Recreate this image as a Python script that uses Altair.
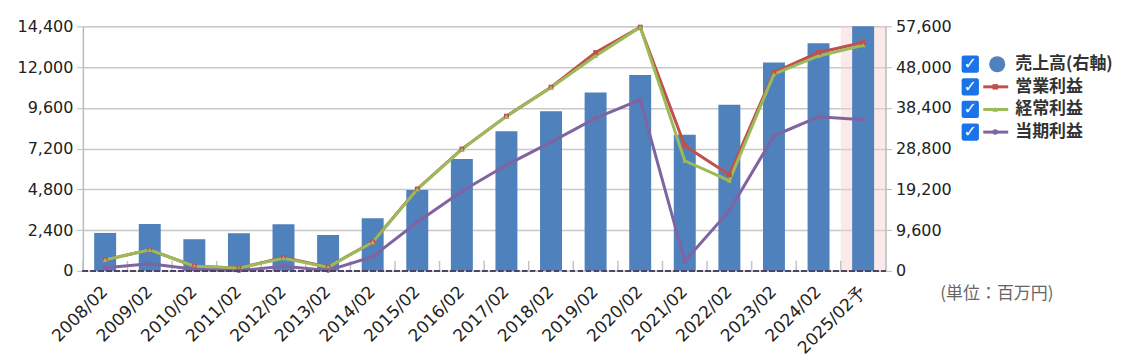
import altair as alt
import pandas as pd

years = ["2008/02", "2009/02", "2010/02", "2011/02", "2012/02", "2013/02", "2014/02",
         "2015/02", "2016/02", "2017/02", "2018/02", "2019/02", "2020/02", "2021/02",
         "2022/02", "2023/02", "2024/02", "2025/02予"]
sales = [8930, 11050, 7450, 8860, 11000, 8460, 12390, 19040, 26330, 32900, 37600,
         42000, 46150, 32050, 39100, 49060, 53600, 57600]
op_profit = [647, 1234, 276, 170, 780, 230, 1700, 4820, 7170, 9110, 10815, 12855,
             14350, 7365, 5660, 11680, 12855, 13443]
ord_profit = [647, 1234, 276, 159, 746, 217, 1687, 4800, 7150, 9100, 10800, 12655,
              14350, 6483, 5308, 11580, 12655, 13285]
net_profit = [176, 411, 100, 10, 276, 20, 840, 2860, 4685, 6230, 7580, 8990, 10070,
              570, 3545, 7953, 9070, 8894]

series_names = ["売上高(右軸)", "営業利益", "経常利益", "当期利益"]
series_colors = ["#4F81BD", "#C0504D", "#9BBB59", "#8064A2"]
line_names = series_names[1:]
line_shapes = ["square", "triangle-up", "circle"]
forecast_year = ["2025/02予"]
left_ticks = [0, 2400, 4800, 7200, 9600, 12000, 14400]
right_ticks = [0, 9600, 19200, 28800, 38400, 48000, 57600]
unit_label = "(単位：百万円)"

W, H = 804, 245

bars_df = pd.DataFrame({"year": years, "sales": sales})
lines_df = pd.concat([
    pd.DataFrame({"year": years, "series": name, "value": vals})
    for name, vals in zip(line_names, [op_profit, ord_profit, net_profit])
])
band_df = pd.DataFrame({"year": forecast_year})
legend_df = pd.DataFrame({"name": series_names, "idx": list(range(len(series_names)))})

color_scale = alt.Scale(domain=series_names, range=series_colors)
shape_scale = alt.Scale(domain=line_names, range=line_shapes)

x_axis = alt.Axis(title=None, labelAngle=-45, labelFontSize=17, labelColor="#222",
                  labelFont="DejaVu Sans", ticks=False, domain=False,
                  labelBaseline="middle", labelAlign="right", labelPadding=18)
x_scale = alt.Scale(domain=years, paddingInner=0, paddingOuter=0)
X = alt.X("year:N", sort=years, scale=x_scale, axis=x_axis)

band = alt.Chart(band_df).mark_rect(color="#f9cfcf", opacity=0.45).encode(
    x=X, y=alt.value(0), y2=alt.value(H))

tick_rules = alt.Chart(bars_df).mark_rule(color="#c4c4c4", strokeWidth=1.5).encode(
    x=alt.X("year:N", sort=years, bandPosition=0, scale=x_scale, axis=x_axis),
    y=alt.value(H - 10), y2=alt.value(H))

bars = alt.Chart(bars_df).mark_bar(size=22, color="#4F81BD").encode(
    x=X,
    y=alt.Y("sales:Q", scale=alt.Scale(domain=[0, 57600], nice=False),
            axis=alt.Axis(orient="right", values=right_ticks, format=",.0f", title=None,
                          grid=False, labelFontSize=16, labelColor="#222",
                          labelFont="DejaVu Sans", domainColor="#bbbbbb",
                          tickColor="#bbbbbb", domainWidth=1.5, tickSize=6,
                          labelPadding=4)))

Yl = alt.Y("value:Q", scale=alt.Scale(domain=[0, 14400], nice=False),
           axis=alt.Axis(orient="left", values=left_ticks, format=",.0f", title=None,
                         grid=True, gridColor="#c8c8c8", gridWidth=1.5,
                         labelFontSize=16, labelColor="#222", labelFont="DejaVu Sans",
                         domainColor="#bbbbbb", tickColor="#bbbbbb", domainWidth=1.5,
                         tickSize=6, labelPadding=4))

lines = alt.Chart(lines_df).mark_line(strokeWidth=3).encode(
    x=X, y=Yl,
    color=alt.Color("series:N", scale=color_scale, legend=None),
    order=alt.Order("series:N"))
points = alt.Chart(lines_df).mark_point(filled=True, size=24, opacity=1).encode(
    x=X, y=Yl,
    color=alt.Color("series:N", scale=color_scale, legend=None),
    shape=alt.Shape("series:N", scale=shape_scale, legend=None))
line_layer = alt.layer(lines, points)

baseline = alt.Chart(bars_df).mark_rule(color="#4d4466", strokeWidth=1.5,
                                         strokeDash=[5, 3]).encode(
    x=alt.value(0), x2=alt.value(W), y=alt.value(H))

Yleg = alt.Y("idx:Q", scale=alt.Scale(domain=[0, 3], range=[38, 106]), axis=None)
box_path = "M-0.75,-1H0.75Q1,-1,1,-0.75V0.75Q1,1,0.75,1H-0.75Q-1,1,-1,0.75V-0.75Q-1,-1,-0.75,-1Z"
leg_box = alt.Chart(legend_df).mark_point(shape=box_path, filled=True, size=300,
                                           color="#1a73e8", opacity=1).encode(
    x=alt.value(889), y=Yleg)
leg_check = alt.Chart(legend_df).mark_text(text="✓", color="white", fontSize=16,
                                            fontWeight="bold", font="DejaVu Sans",
                                            baseline="middle").encode(
    x=alt.value(889), y=Yleg)
leg_circle = alt.Chart(legend_df).transform_filter(
    alt.datum.name == series_names[0]).mark_circle(size=260, opacity=1).encode(
    x=alt.value(916), y=Yleg,
    color=alt.Color("name:N", scale=color_scale, legend=None))
leg_rule = alt.Chart(legend_df).transform_filter(
    alt.datum.name != series_names[0]).mark_rule(strokeWidth=3).encode(
    x=alt.value(902), x2=alt.value(927), y=Yleg,
    color=alt.Color("name:N", scale=color_scale, legend=None))
leg_mark = alt.Chart(legend_df).transform_filter(
    alt.datum.name != series_names[0]).mark_point(filled=True, size=30, opacity=1).encode(
    x=alt.value(914), y=Yleg,
    color=alt.Color("name:N", scale=color_scale, legend=None),
    shape=alt.Shape("name:N", scale=shape_scale, legend=None))
leg_text = alt.Chart(legend_df).mark_text(align="left", baseline="middle", fontSize=17,
                                           fontWeight="bold", font="Noto Sans CJK JP",
                                           color="#333").encode(
    x=alt.value(934), y=Yleg, text="name:N")
legend_layer = alt.layer(leg_box, leg_check, leg_circle, leg_rule, leg_mark, leg_text)

unit = alt.Chart(pd.DataFrame({"t": [unit_label]})).mark_text(
    align="left", baseline="middle", fontSize=17, font="Noto Sans CJK JP",
    color="#666").encode(x=alt.value(859), y=alt.value(268), text="t:N")

chart = alt.layer(band, tick_rules, bars, line_layer, baseline, legend_layer, unit).resolve_scale(
    y="independent", color="shared", shape="shared"
).properties(
    width=W, height=H, padding={"left": 9, "top": 10, "right": 5, "bottom": 5}
).configure_view(stroke=None).configure(background="white")

chart.save("out.html", embed_options={"renderer": "svg", "actions": False})
